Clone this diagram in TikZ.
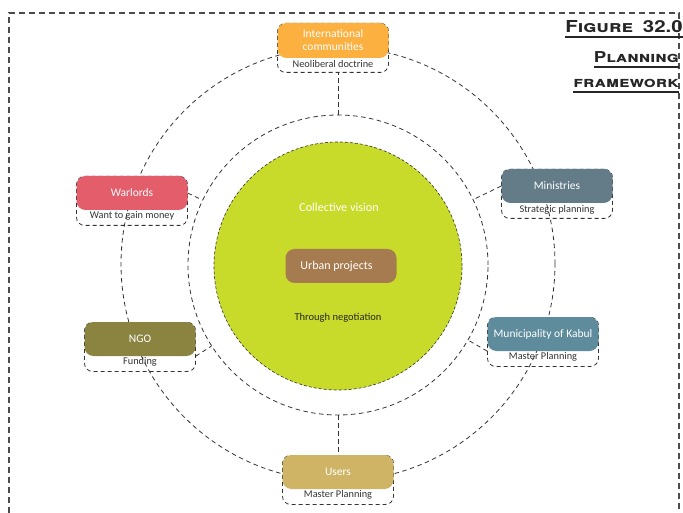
\documentclass[tikz,border=0pt]{standalone}
\usepackage{fontspec}
\setmainfont{Carlito}
\newfontfamily\heros[FakeStretch=1.24]{TeX Gyre Heros}
\usetikzlibrary{positioning}
\definecolor{orange}{HTML}{FBB040}
\definecolor{rose}{HTML}{E35D6A}
\definecolor{slate}{HTML}{637C87}
\definecolor{olive}{HTML}{8B8441}
\definecolor{teal}{HTML}{5E8C9D}
\definecolor{sand}{HTML}{CFB466}
\definecolor{lime}{HTML}{C9DB2A}
\definecolor{brown}{HTML}{A77B50}
\definecolor{ink}{HTML}{333333}
\tikzset{
  actor/.style={rounded corners=9pt,minimum width=111pt,minimum height=34pt,font=\fontsize{11.5}{13}\selectfont,text=white,align=center,inner sep=1pt},
  tagbox/.style={draw=ink,dash pattern=on 4pt off 3pt,rounded corners=8pt,minimum width=111pt,minimum height=49pt,line width=0.8pt,anchor=north},
  tagtext/.style={font=\fontsize{10.3}{12}\selectfont,text=ink,inner sep=0pt},
  ring/.style={circle,draw=ink,dash pattern=on 4.5pt off 3.5pt,line width=0.8pt,inner sep=0pt},
  link/.style={draw=ink,dash pattern=on 4.5pt off 3.5pt,line width=0.8pt},
  frame/.style={draw=black!70,dash pattern=on 6pt off 4pt,line width=1.3pt},
  heading/.style={font=\heros\bfseries\scshape\fontsize{15}{18}\selectfont,text=black!85,anchor=base east,inner sep=0pt},
  uline/.style={draw=black!85,line width=1.1pt}
}
\begin{document}
\begin{tikzpicture}[x=1pt,y=-1pt]
\path[use as bounding box] (0,0) rectangle (683,513);
\draw[frame] (9,513)--(9,13)--(679,13)--(679,513);
\node[heading,font=\heros\bfseries\scshape\fontsize{16.5}{18}\selectfont] (fig) at (683,33) {Figure\hspace{0.6em}32.0}; \node[heading] (plan) at (679,63) {Planning}; \node[heading] (frame) at (679,88) {framework};
\draw[uline] ([yshift=-4pt]fig.base west)--([yshift=-4pt]fig.base east); \draw[uline] ([yshift=-4pt]plan.base west)--([yshift=-4pt]plan.base east); \draw[uline] ([yshift=-4pt]frame.base west)--([yshift=-4pt]frame.base east);
\node[ring,minimum size=434pt] (outer) at (338,264) {};
\node[ring,minimum size=300pt] (middle) at (338,265) {};
\node[ring,fill=lime,minimum size=248pt,dash pattern=on 3pt off 2pt,line width=0.6pt] (core) at (338,266) {};
\node[text=white,font=\fontsize{12.2}{14}\selectfont] (vision) at (339,207) {Collective vision};
\node[actor,fill=brown,font=\fontsize{12}{14}\selectfont] (urban) at (341,266) {\hspace{-9pt}Urban projects};
\node[tagtext,font=\fontsize{10.5}{12}\selectfont,text=black!85] (nego) at (338,318) {Through negotiation};
\node[tagbox] (intlt) at (333,23) {}; \node[actor,fill=orange,minimum height=35pt] (intl) at (333,40.5) {International\\communities}; \node[tagtext] (intll) at (333,64) {Neoliberal doctrine};
\node[tagbox] (warlt) at (132,176) {}; \node[actor,fill=rose] (warl) at (132,193) {Warlords}; \node[tagtext] (warll) at (132,216) {Want to gain money};
\node[tagbox] (minit) at (557,169) {}; \node[actor,fill=slate] (mini) at (557,186) {Ministries}; \node[tagtext] (minil) at (557,210) {Strategic planning};
\node[tagbox] (ngot) at (140,322) {}; \node[actor,fill=olive] (ngo) at (140,339) {NGO}; \node[tagtext] (ngol) at (140,362) {Funding};
\node[tagbox] (munit) at (543,317) {}; \node[actor,fill=teal] (muni) at (543,334) {Municipality of Kabul}; \node[tagtext] (munil) at (543,357) {Master Planning};
\node[tagbox] (userst) at (338,455) {}; \node[actor,fill=sand] (users) at (338,472) {Users}; \node[tagtext] (usersl) at (338,495) {Master Planning};
\draw[link] (middle.north)--(middle.north |- intlt.south); \draw[link] (middle.south)--(middle.south |- users.north);
\draw[link] (warl.east)--(middle); \draw[link] (mini.west)--(middle); \draw[link] (ngo.south east)--(middle); \draw[link] (muni.south west)--(middle);
\end{tikzpicture}
\end{document}
